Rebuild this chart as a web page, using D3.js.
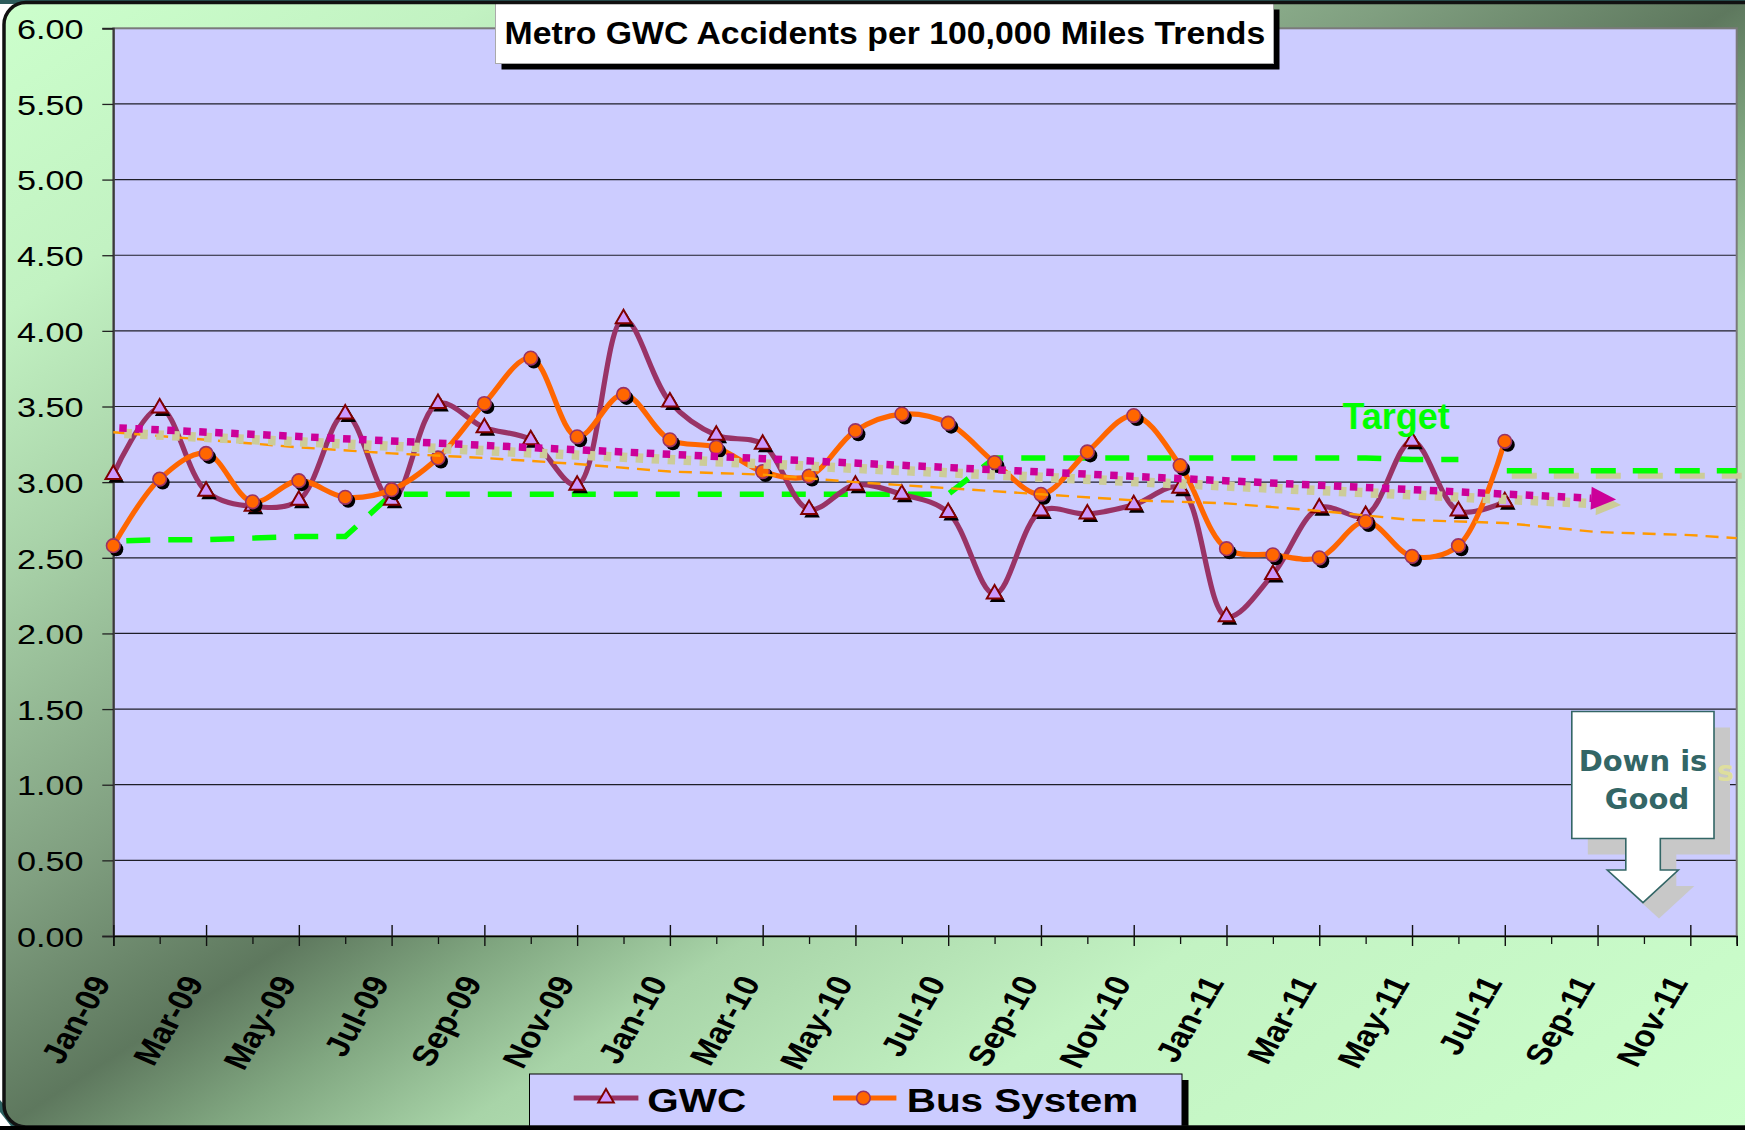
<!DOCTYPE html>
<html><head><meta charset="utf-8">
<script src="https://cdn.jsdelivr.net/npm/d3@7"></script>
<style>
html,body{margin:0;padding:0;background:#fff;}
svg{display:block;}
text{font-family:"Liberation Sans",Arial,sans-serif;}
</style></head><body>
<svg id="chart" width="1745" height="1130"></svg>
<script>
// ---------------- data ----------------
const months = ["Jan-09","Feb-09","Mar-09","Apr-09","May-09","Jun-09","Jul-09","Aug-09","Sep-09","Oct-09","Nov-09","Dec-09",
                "Jan-10","Feb-10","Mar-10","Apr-10","May-10","Jun-10","Jul-10","Aug-10","Sep-10","Oct-10","Nov-10","Dec-10",
                "Jan-11","Feb-11","Mar-11","Apr-11","May-11","Jun-11","Jul-11","Aug-11","Sep-11","Oct-11","Nov-11","Dec-11"];
const gwc = [3.05,3.49,2.94,2.84,2.88,3.45,2.88,3.52,3.36,3.28,2.98,4.08,
             3.53,3.31,3.25,2.82,2.98,2.92,2.80,2.26,2.81,2.79,2.85,2.96,
             2.11,2.39,2.83,2.78,3.27,2.81,2.87];
const bus = [2.58,3.02,3.19,2.87,3.01,2.90,2.95,3.16,3.52,3.82,3.30,3.58,
             3.28,3.23,3.07,3.04,3.34,3.45,3.39,3.13,2.92,3.20,3.44,3.11,
             2.56,2.52,2.50,2.74,2.51,2.58,3.27];
const target = [2.61,2.62,2.62,2.63,2.64,2.64,2.92,2.92,2.92,2.92,2.92,2.92,
                2.92,2.92,2.92,2.92,2.92,2.92,2.92,3.16,3.16,3.16,3.16,3.16,
                3.16,3.16,3.16,3.16,3.15,3.15];
const targetExtMonths = [30,35];
const targetExtValues = [3.075,3.075];
const busTrendMonths = [0,2,4,6,8,10,12,14,16,18,20,22,24,26,28,30,32,34,35];
const busTrendValues = [3.33,3.28,3.23,3.19,3.16,3.12,3.07,3.05,3.00,2.96,2.92,2.88,2.86,2.81,2.75,2.73,2.67,2.65,2.63];
const gwcTrendMonths = [0,32.4];
const gwcTrendValues = [3.36,2.886];
const yTicks = [0,0.5,1,1.5,2,2.5,3,3.5,4,4.5,5,5.5,6];
const majorMonths = d3.range(0,36,2);
const minorMonths = d3.range(1,36,2);
const legendItems = ["GWC","Bus System"];
const titleText = "Metro GWC Accidents per 100,000 Miles Trends";
const calloutLines = ["Down is","Good"];
const calloutAnchor = {month:32.98, value:0.221};

// ---------------- layout ----------------
const svg = d3.select("#chart");
const W = 1745, H = 1130;
const P = {l:113.3, r:1736.7, t:28.3, b:936};
const x = d3.scaleLinear().domain([0,35]).range([P.l,P.r]);
const y = d3.scaleLinear().domain([0,6]).range([P.b,P.t]);
const SX = 1.18; // horizontal stretch of the original picture

const defs = svg.append("defs");
const g = defs.append("linearGradient").attr("id","bg").attr("x1",0).attr("y1",0).attr("x2",1).attr("y2",1);
[[0,"#ccffcc"],[0.14,"#c2f2c2"],[0.25,"#a9d3a9"],[0.4,"#809f80"],[0.5,"#5e785e"],[0.56,"#80a680"],[0.63,"#a8d4a8"],[0.76,"#c3f3c3"],[1,"#ccffcc"]]
  .forEach(s=>g.append("stop").attr("offset",s[0]).attr("stop-color",s[1]));
defs.append("clipPath").attr("id","frameClip").append("rect")
  .attr("x",4).attr("y",2.5).attr("width",1800).attr("height",1124.5).attr("rx",22);

// outer slide bits
svg.append("rect").attr("x",0).attr("y",0).attr("width",W).attr("height",4).attr("fill","#2d5c5c");
svg.append("path").attr("d","M0,1100 L0,1112 L14,1130 L26,1130 Z").attr("fill","#2d6262");

// frame
svg.append("rect").attr("x",0).attr("y",0).attr("width",W).attr("height",H)
  .attr("fill","url(#bg)").attr("clip-path","url(#frameClip)");

// plot area
svg.append("rect").attr("x",P.l).attr("y",P.t).attr("width",P.r-P.l).attr("height",P.b-P.t).attr("fill","#ccccff");

// gridlines
svg.append("g").selectAll("line").data(yTicks.filter(v=>v>0 && v<6)).join("line")
  .attr("x1",P.l).attr("x2",P.r).attr("y1",d=>y(d)).attr("y2",d=>y(d))
  .attr("stroke","#1e1e28").attr("stroke-width",1.2);

// plot border
svg.append("rect").attr("x",P.l).attr("y",P.t).attr("width",P.r-P.l).attr("height",P.b-P.t)
  .attr("fill","none").attr("stroke","#7a7a7a").attr("stroke-width",2);

// y axis
const yAx = svg.append("g").attr("transform",`translate(${P.l},0)`)
  .call(d3.axisLeft(y).tickValues(yTicks).tickSize(11).tickFormat(d3.format(".2f")));
yAx.select(".domain").attr("stroke","#3a3a3a").attr("stroke-width",2);
yAx.selectAll(".tick line").attr("stroke","#222").attr("stroke-width",1.3);
yAx.selectAll(".tick text").attr("x",-29.8/1.2).attr("dy","0.36em").attr("transform","scale(1.2,1)")
  .attr("font-size",28.5).attr("fill","#000").style("font-family","'Liberation Sans',Arial,sans-serif");

// x axis
const xAx = svg.append("g").attr("transform",`translate(0,${P.b})`)
  .call(d3.axisBottom(x).tickValues(majorMonths).tickSize(10).tickFormat(i=>months[i]));
xAx.select(".domain").attr("stroke","#000").attr("stroke-width",1.6);
xAx.selectAll(".tick line").attr("y1",-11).attr("y2",10).attr("stroke","#111").attr("stroke-width",1.4);
xAx.selectAll(".tick text").attr("x",0).attr("y",0).attr("dy","0.35em")
  .attr("text-anchor","end").attr("font-size",29.5).attr("font-weight","bold").attr("fill","#000")
  .attr("transform",`translate(-13,42) scale(${SX},1) rotate(-63)`)
  .style("font-family","'Liberation Sans',Arial,sans-serif");
const xMin = svg.append("g").attr("transform",`translate(0,${P.b})`)
  .call(d3.axisBottom(x).tickValues(minorMonths).tickSize(8).tickFormat(""));
xMin.select(".domain").remove();
xMin.selectAll(".tick line").attr("stroke","#111").attr("stroke-width",1.3);

// target series (excel)
svg.append("path").datum(target)
  .attr("d",d3.line().x((d,i)=>x(i)).y(d=>y(d)))
  .attr("fill","none").attr("stroke","#00ff00").attr("stroke-width",5.5)
  .attr("stroke-dasharray","24,18").attr("stroke-dashoffset",29);

// data lines
const smooth = d3.curveCatmullRom.alpha(0.5);
svg.append("path").datum(gwc).attr("d",d3.line().x((d,i)=>x(i)).y(d=>y(d)).curve(smooth))
  .attr("fill","none").attr("stroke","#993366").attr("stroke-width",5.2).attr("stroke-linejoin","round");
const tri = d3.symbol(d3.symbolTriangle,105)();
const gG = svg.append("g");
gG.selectAll("path.sh").data(gwc).join("path").attr("class","sh").attr("d",tri)
  .attr("transform",(d,i)=>`translate(${x(i)+3},${y(d)+3.5})`).attr("fill","#000");
gG.selectAll("path.mk").data(gwc).join("path").attr("class","mk").attr("d",tri)
  .attr("transform",(d,i)=>`translate(${x(i)},${y(d)})`)
  .attr("fill","#cc99ff").attr("stroke","#800000").attr("stroke-width",2);

svg.append("path").datum(bus).attr("d",d3.line().x((d,i)=>x(i)).y(d=>y(d)).curve(smooth))
  .attr("fill","none").attr("stroke","#ff6600").attr("stroke-width",5.2).attr("stroke-linejoin","round");
const bG = svg.append("g");
bG.selectAll("circle.sh").data(bus).join("circle").attr("class","sh")
  .attr("cx",(d,i)=>x(i)+3).attr("cy",d=>y(d)+3.5).attr("r",7).attr("fill","#000");
bG.selectAll("circle.mk").data(bus).join("circle").attr("class","mk")
  .attr("cx",(d,i)=>x(i)).attr("cy",d=>y(d)).attr("r",6.8)
  .attr("fill","#ff6600").attr("stroke","#993366").attr("stroke-width",1.6);

// bus trend (thin dashed)
svg.append("path").datum(busTrendMonths.map((m,i)=>[m,busTrendValues[i]]))
  .attr("d",d3.line().x(d=>x(d[0])).y(d=>y(d[1])))
  .attr("fill","none").attr("stroke","#ff9900").attr("stroke-width",2.4).attr("stroke-dasharray","13,8");

// ---- overlay shapes: target extension + GWC trend arrow (with beige shadows)
const ext = targetExtMonths.map((m,i)=>[x(m),y(targetExtValues[i])]);
const extLine = d3.line();
svg.append("path").attr("d",extLine(ext)).attr("transform","translate(5,5)")
  .attr("fill","none").attr("stroke","#cccc99").attr("stroke-width",6).attr("stroke-dasharray","25,17").attr("stroke-dashoffset",-2);
svg.append("path").attr("d",extLine(ext))
  .attr("fill","none").attr("stroke","#00ff00").attr("stroke-width",5.5).attr("stroke-dasharray","25,17").attr("stroke-dashoffset",-2);

const t0 = [x(gwcTrendMonths[0]),y(gwcTrendValues[0])];
const t1 = [x(gwcTrendMonths[1]),y(gwcTrendValues[1])];
const ang = Math.atan2(t1[1]-t0[1],t1[0]-t0[0]);
const headL = 25, headW = 11.5;
const base = [t1[0]-headL*Math.cos(ang), t1[1]-headL*Math.sin(ang)];
const head = [t1,[base[0]+headW*Math.sin(ang),base[1]-headW*Math.cos(ang)],[base[0]-headW*Math.sin(ang),base[1]+headW*Math.cos(ang)]];
function drawArrow(dx,dy,color,w){
  svg.append("path").attr("d",d3.line()([t0,base])).attr("transform",`translate(${dx},${dy})`)
    .attr("fill","none").attr("stroke",color).attr("stroke-width",w).attr("stroke-dasharray","7.5,8.5").attr("stroke-dashoffset",10);
  svg.append("path").attr("d","M"+head.map(p=>p.join(",")).join("L")+"Z").attr("transform",`translate(${dx},${dy})`)
    .attr("fill",color);
}
drawArrow(5,5.5,"#cccc99",9.5);
drawArrow(0,0,"#cc0099",7.5);

// Target label
svg.append("text").attr("x",x(26.5)).attr("y",y(3.35)).attr("font-size",36).attr("font-weight","bold")
  .attr("fill","#00ff00").text("Target");

// callout "Down is Good"
const ax = x(calloutAnchor.month), ay = y(calloutAnchor.value);
const co = [[-71.2,-191],[71,-191],[71,-64],[17.3,-64],[17.3,-32.5],[35.3,-32.5],[0,0],[-35.7,-32.5],[-17.2,-32.5],[-17.2,-64],[-71.2,-64]];
const coPath = "M"+co.map(p=>[ax+p[0],ay+p[1]].join(",")).join("L")+"Z";
svg.append("path").attr("d",coPath).attr("transform","translate(16,16)").attr("fill","#c8c8c8");
// faint shadow letter peeking out to the right of the callout box
svg.append("text").attr("x",ax+74).attr("y",ay-122)
  .style("font-family","'DejaVu Sans',Verdana,sans-serif").attr("font-size",29).attr("font-weight","bold")
  .attr("fill","#dede9e").text("s");
svg.append("path").attr("d",coPath).attr("fill","#fff").attr("stroke","#336666").attr("stroke-width",1.6);
svg.selectAll("text.co").data(calloutLines).join("text").attr("class","co")
  .attr("x",(d,i)=>ax+(i?4:0)).attr("y",(d,i)=>ay-131.5+i*38).attr("text-anchor","middle")
  .style("font-family","'DejaVu Sans',Verdana,sans-serif").attr("font-size",29).attr("font-weight","bold")
  .attr("fill","#336666").text(d=>d);

// title
svg.append("rect").attr("x",501.5).attr("y",9.5).attr("width",778).attr("height",60).attr("fill","#000");
svg.append("rect").attr("x",495.5).attr("y",3.5).attr("width",778).attr("height",60).attr("fill","#fff").attr("stroke","#aaa").attr("stroke-width",1);
svg.append("text").attr("transform",`translate(504.5,43.5) scale(1.09,1)`).attr("font-size",31).attr("font-weight","bold")
  .attr("fill","#000").text(titleText);

// legend
const lg = svg.append("g");
lg.append("rect").attr("x",536).attr("y",1080).attr("width",652.5).attr("height",60).attr("fill","#000");
lg.append("rect").attr("x",529.5).attr("y",1074).attr("width",652.5).attr("height",60).attr("fill","#ccccff").attr("stroke","#000").attr("stroke-width",1);
const legX = [[573.7,638.4,606,647.3],[833,896.4,863.4,906.7]];
legendItems.forEach((name,i)=>{
  const L = legX[i];
  lg.append("line").attr("x1",L[0]).attr("x2",L[1]).attr("y1",1098).attr("y2",1098)
    .attr("stroke",i?"#ff6600":"#993366").attr("stroke-width",5);
  if(i===0){
    lg.append("path").attr("d",tri).attr("transform",`translate(${L[2]},1098)`)
      .attr("fill","#cc99ff").attr("stroke","#800000").attr("stroke-width",2);
  } else {
    lg.append("circle").attr("cx",L[2]).attr("cy",1098).attr("r",6.8)
      .attr("fill","#ff6600").attr("stroke","#993366").attr("stroke-width",1.6);
  }
  lg.append("text").attr("transform",`translate(${L[3]},1112) scale(1.19,1)`).attr("font-size",34).attr("font-weight","bold")
    .attr("fill","#000").text(name);
});

// frame stroke
svg.append("rect").attr("x",4).attr("y",2.5).attr("width",1800).attr("height",1124.5).attr("rx",22)
  .attr("fill","none").attr("stroke","#111").attr("stroke-width",3.5);
svg.append("rect").attr("x",0).attr("y",1126).attr("width",W).attr("height",4).attr("fill","#000");
</script>
</body></html>
